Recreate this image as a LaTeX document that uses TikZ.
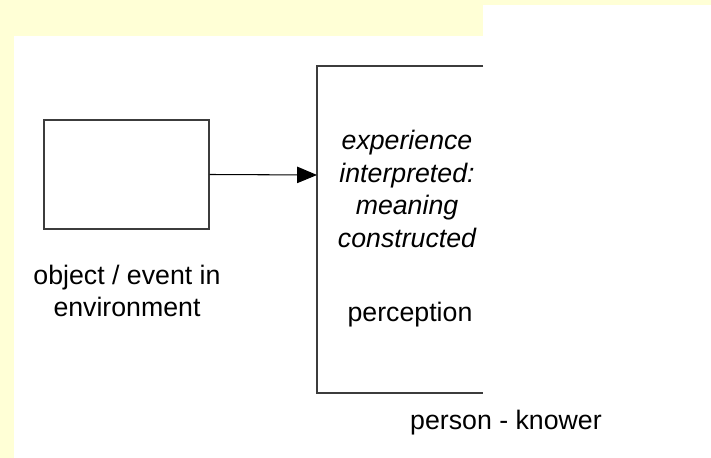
\documentclass[tikz,border=0pt]{standalone}
\usepackage{fontspec}
\setmainfont{Liberation Sans}
\usetikzlibrary{arrows.meta}
\definecolor{paleyellow}{RGB}{255,255,214}
\definecolor{linegray}{RGB}{60,60,60}
\newcommand{\lbl}{\fontsize{22.8}{28}\selectfont}

\begin{document}
\begin{tikzpicture}[x=0.03cm, y=-0.03cm, line width=1.2pt,
  box/.style={draw=linegray, minimum width=4.95cm, minimum height=3.27cm, inner sep=0pt},
  txt/.style={font=\lbl, align=center, inner sep=0pt}]
% background
\fill [paleyellow] (0,0) rectangle (711,458);
\fill [white] (14,36) rectangle (711,458);
\fill [white] (483,5) rectangle (711,458);
\useasboundingbox (0,0) rectangle (711,458);

\node (obj) at (126.5,174.5) [box] {};
\node (objlbl) at (127,291) [txt] {object / event in\\environment};

\coordinate (kTop) at (483,66);
\coordinate (kTL) at (317,66);
\coordinate (kIn) at (317,175);
\coordinate (kBL) at (317,393);
\coordinate (kBot) at (483,393);
\draw [linegray] (kTop) -- (kTL) -- (kBL) -- (kBot);

\node (interp) at (407,189) [txt] {\itshape experience\\\itshape interpreted:\\\itshape meaning\\\itshape constructed};
\node (percep) at (410,315) [txt] {perception};
\node (knower) at (506,423) [txt] {person - knower};

\draw [-{Triangle[length=17pt, width=14pt]}, line width=0.9pt] (obj.east) -- (kIn);
\end{tikzpicture}
\end{document}
